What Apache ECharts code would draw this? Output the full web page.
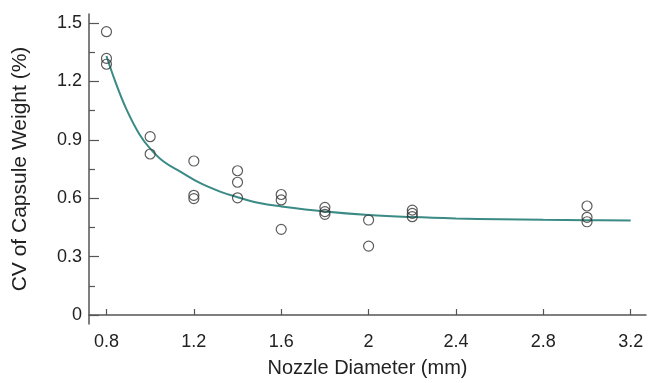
<!DOCTYPE html>
<html>
<head>
<meta charset="utf-8">
<script src="https://cdn.jsdelivr.net/npm/echarts@6/dist/echarts.min.js"></script>
<style>
  html, body { margin: 0; padding: 0; background: #fff; }
  #chart { width: 656px; height: 383px; }
</style>
</head>
<body>
<div id="chart"></div>
<script>
// measured points (nozzle diameter mm, CV %)
var obsX = [0.8, 0.8, 0.8, 1.0, 1.0, 1.2, 1.2, 1.2, 1.4, 1.4, 1.4, 1.6, 1.6, 1.6, 1.8, 1.8, 1.8, 2.0, 2.0, 2.2, 2.2, 2.2, 3.0, 3.0, 3.0]
var obsY = [1.455, 1.318, 1.288, 0.916, 0.827, 0.791, 0.615, 0.598, 0.741, 0.682, 0.602, 0.619, 0.591, 0.44, 0.553, 0.531, 0.517, 0.488, 0.354, 0.539, 0.522, 0.505, 0.56, 0.502, 0.479]

// fitted curve
var fitX = [0.80, 0.84, 0.89, 0.95, 1.00, 1.06, 1.14, 1.23, 1.32, 1.40, 1.50, 1.60, 1.80, 2.00, 2.20, 2.40, 2.60, 2.80, 3.00, 3.20]
var fitY = [1.33, 1.20, 1.06, 0.93, 0.855, 0.79, 0.735, 0.677, 0.634, 0.605, 0.575, 0.558, 0.532, 0.514, 0.503, 0.496, 0.492, 0.489, 0.487, 0.486]

var xTicks = [0.8, 1.2, 1.6, 2.0, 2.4, 2.8, 3.2]
var yTicks = [0, 0.3, 0.6, 0.9, 1.2, 1.5]
var yMinorTicks = [0.15, 0.45, 0.75, 1.05, 1.35]

var chart = echarts.init(document.getElementById('chart'))

var axisColor = '#555'
var font = 'Liberation Sans, Arial, sans-serif'

var option = {
  animation: false,
  backgroundColor: '#fff',
  grid: { left: 89, right: 10, top: 14, bottom: 59 },
  xAxis: {
    type: 'value',
    min: 0.72,
    max: 3.27,
    name: 'Nozzle Diameter (mm)',
    nameLocation: 'middle',
    nameGap: 34,
    nameTextStyle: { fontFamily: font, fontSize: 20, color: '#222' },
    axisLine: { lineStyle: { color: axisColor, width: 1.5 } },
    axisTick: { inside: true, length: 6, customValues: xTicks, lineStyle: { color: axisColor, width: 1.2 } },
    axisLabel: { customValues: xTicks, margin: 9, fontFamily: font, fontSize: 18, color: '#222' },
    splitLine: { show: false }
  },
  yAxis: [{
    type: 'value',
    min: -0.046,
    max: 1.546,
    name: 'CV of Capsule Weight (%)',
    nameLocation: 'middle',
    nameGap: 58,
    nameTextStyle: { fontFamily: font, fontSize: 21, color: '#222' },
    axisLine: { show: true, lineStyle: { color: axisColor, width: 1.5 } },
    axisTick: { show: true, inside: true, length: 10, customValues: yTicks, lineStyle: { color: axisColor, width: 1.2 } },
    axisLabel: { customValues: yTicks, margin: 7, fontFamily: font, fontSize: 18, color: '#222' },
    splitLine: { show: false }
  }, {
    type: 'value',
    position: 'left',
    min: -0.046,
    max: 1.546,
    axisLine: { show: false },
    axisTick: { show: true, inside: true, length: 6, customValues: yMinorTicks, lineStyle: { color: axisColor, width: 1.2 } },
    axisLabel: { show: false },
    splitLine: { show: false }
  }],
  series: [{
    type: 'line',
    data: fitX.map(function (x, i) { return [x, fitY[i]] }),
    smooth: 0.4,
    showSymbol: false,
    lineStyle: { color: '#3a8a85', width: 2 },
    z: 2
  }, {
    type: 'scatter',
    data: obsX.map(function (x, i) { return [x, obsY[i]] }),
    symbol: 'circle',
    symbolSize: 10,
    itemStyle: { color: 'rgba(0,0,0,0)', borderColor: '#333', borderWidth: 1.2 },
    z: 3
  }]
}

chart.setOption(option)
</script>
</body>
</html>
